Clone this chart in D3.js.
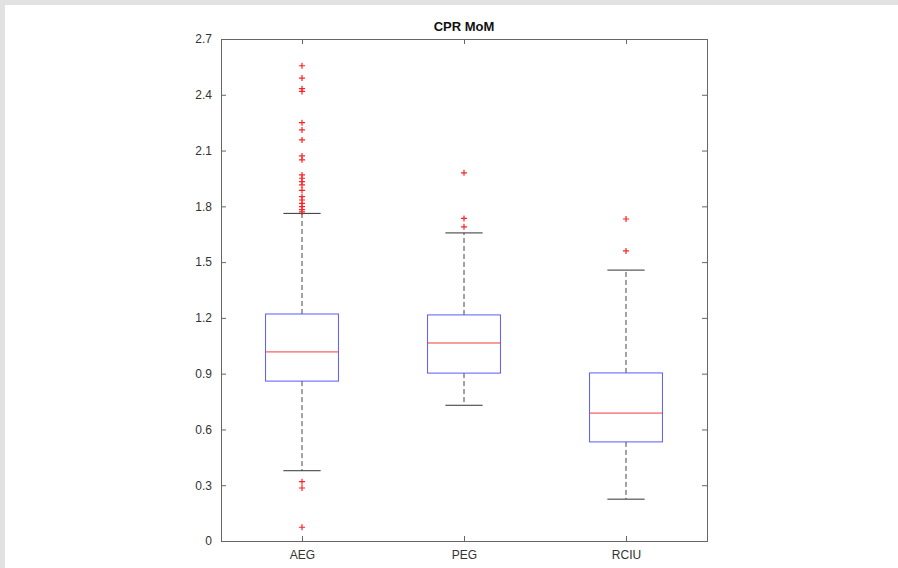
<!DOCTYPE html>
<html>
<head>
<meta charset="utf-8">
<script src="https://cdn.jsdelivr.net/npm/d3@7"></script>
<style>
  html, body { margin: 0; padding: 0; background: #fff; }
  svg { display: block; }
  text { font-family: 'Liberation Sans', Arial, sans-serif; }
</style>
</head>
<body>
<svg id="chart" width="898" height="568"></svg>
<script>
// box plot summary values
const groups = ['AEG', 'PEG', 'RCIU']
const q1 = [0.86, 0.903, 0.533]
const medians = [1.017, 1.065, 0.688]
const q3 = [1.221, 1.216, 0.904]
const whiskerLow = [0.378, 0.73, 0.225]
const whiskerHigh = [1.762, 1.657, 1.457]
const outliers = [
  [2.556, 2.49, 2.433, 2.418, 2.25, 2.211, 2.157, 2.071, 2.05, 1.969, 1.951, 1.933,
    1.915, 1.886, 1.852, 1.834, 1.816, 1.798, 1.782, 1.77, 0.319, 0.285, 0.074],
  [1.98, 1.735, 1.69],
  [1.732, 1.56]
]
const yTicks = [0, 0.3, 0.6, 0.9, 1.2, 1.5, 1.8, 2.1, 2.4, 2.7]
const title = 'CPR MoM'

const svg = d3.select('#chart')
const plotLeft = 221
const plotRight = 707
const plotTop = 39
const plotBottom = 541
const axisColor = '#666'

// light grey frame on top and left like the source image
svg.append('rect').attr('x', 0).attr('y', 0).attr('width', 898).attr('height', 5).attr('fill', '#e2e2e2')
svg.append('rect').attr('x', 0).attr('y', 0).attr('width', 5).attr('height', 568).attr('fill', '#e2e2e2')

const x = d3.scaleLinear().domain([0.5, groups.length + 0.5]).range([plotLeft, plotRight])
const y = d3.scaleLinear().domain([0, 2.7]).range([plotBottom, plotTop])
const halfBox = 0.225
const halfCap = 0.115

// axes, ticks pointing inward on all sides
const g = svg.append('g')
const yAxis = d3.axisLeft(y).tickValues(yTicks).tickSize(-5).tickPadding(9)
  .tickFormat(d => d === 0 ? '0' : d3.format('.1f')(d))
g.append('g').attr('transform', `translate(${plotLeft},0)`).call(yAxis)
g.append('g').attr('transform', `translate(${plotRight},0)`)
  .call(d3.axisRight(y).tickValues(yTicks).tickSize(-5).tickFormat(''))
const xAxis = d3.axisBottom(x).tickValues(groups.map((d, i) => i + 1)).tickSize(-5).tickPadding(9)
  .tickFormat((d, i) => groups[i])
g.append('g').attr('transform', `translate(0,${plotBottom})`).call(xAxis)
g.append('g').attr('transform', `translate(0,${plotTop})`)
  .call(d3.axisTop(x).tickValues(groups.map((d, i) => i + 1)).tickSize(-5).tickFormat(''))
g.selectAll('.domain').attr('stroke', axisColor)
g.selectAll('.tick line').attr('stroke', axisColor)
g.selectAll('.tick text').attr('fill', '#333').style('font-size', '12px')

// boxes
const boxes = svg.append('g').selectAll('.box')
  .data(groups.map((name, i) => ({ name, pos: i + 1, i })))
  .enter()
  .append('g')
  .attr('class', 'box')

boxes.append('line')
  .attr('x1', d => x(d.pos)).attr('x2', d => x(d.pos))
  .attr('y1', d => y(q3[d.i])).attr('y2', d => y(whiskerHigh[d.i]))
  .attr('stroke', '#444').attr('stroke-dasharray', '5,3')
boxes.append('line')
  .attr('x1', d => x(d.pos)).attr('x2', d => x(d.pos))
  .attr('y1', d => y(q1[d.i])).attr('y2', d => y(whiskerLow[d.i]))
  .attr('stroke', '#444').attr('stroke-dasharray', '5,3')

boxes.append('line')
  .attr('x1', d => x(d.pos - halfCap)).attr('x2', d => x(d.pos + halfCap))
  .attr('y1', d => y(whiskerHigh[d.i])).attr('y2', d => y(whiskerHigh[d.i]))
  .attr('stroke', '#333')
boxes.append('line')
  .attr('x1', d => x(d.pos - halfCap)).attr('x2', d => x(d.pos + halfCap))
  .attr('y1', d => y(whiskerLow[d.i])).attr('y2', d => y(whiskerLow[d.i]))
  .attr('stroke', '#333')

boxes.append('rect')
  .attr('x', d => x(d.pos - halfBox))
  .attr('y', d => y(q3[d.i]))
  .attr('width', d => x(d.pos + halfBox) - x(d.pos - halfBox))
  .attr('height', d => y(q1[d.i]) - y(q3[d.i]))
  .attr('fill', 'none')
  .attr('stroke', '#5a5aff')

boxes.append('line')
  .attr('x1', d => x(d.pos - halfBox)).attr('x2', d => x(d.pos + halfBox))
  .attr('y1', d => y(medians[d.i])).attr('y2', d => y(medians[d.i]))
  .attr('stroke', '#f03c3c')

// outlier crosses
boxes.selectAll('.outlier')
  .data(d => outliers[d.i].map(v => ({ v, pos: d.pos })))
  .enter()
  .append('path')
  .attr('class', 'outlier')
  .attr('d', d => {
    const cx = x(d.pos)
    const cy = y(d.v)
    return `M${cx - 3},${cy}H${cx + 3}M${cx},${cy - 3}V${cy + 3}`
  })
  .attr('stroke', '#f22')
  .attr('stroke-width', 1.2)

svg.append('text')
  .attr('x', (plotLeft + plotRight) / 2)
  .attr('y', 31)
  .attr('text-anchor', 'middle')
  .style('font-size', '13px')
  .style('font-weight', 'bold')
  .attr('fill', '#111')
  .text(title)
</script>
</body>
</html>
